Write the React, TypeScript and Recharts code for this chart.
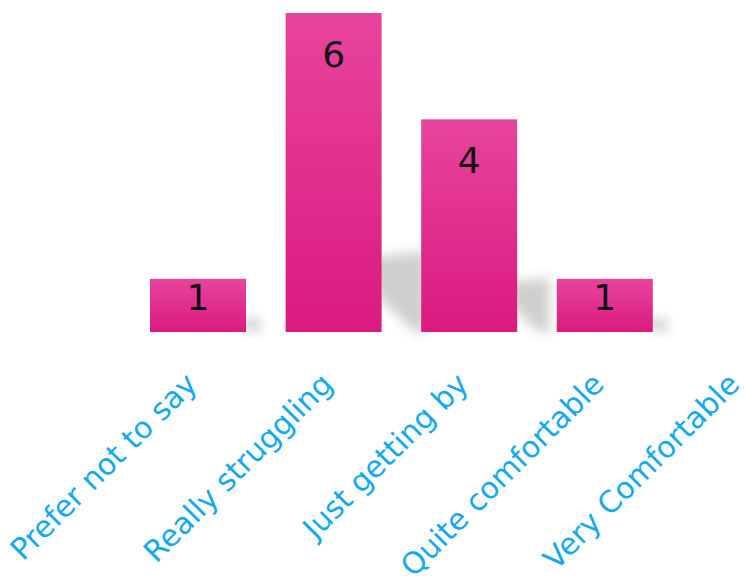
import { BarChart, Bar, XAxis, YAxis, LabelList } from 'recharts';

const categories = [
  'Prefer not to say',
  'Really struggling',
  'Just getting by',
  'Quite comfortable',
  'Very Comfortable',
];
const counts = [1, 6, 4, 1, 0];

const data = categories.map((name, i) => ({ name, count: counts[i] }));

const PINK_TOP = '#e8449c';
const PINK_BOTTOM = '#da1a7f';
const CYAN = '#14a9ef';
const FONT = '"DejaVu Sans", sans-serif';

// bar with a soft grey shadow falling to its right
function ShadowBar(props: any) {
  const { x, y, width, height } = props;
  if (!height || height <= 0) return null;
  const b = y + height;
  const xr = x + width;
  const sh = height * 0.23;
  const pts = [
    [xr - 20, b - sh],
    [xr + 8 + sh * 0.5, b - sh * 1.1],
    [xr + 8 + sh * 0.5, b],
    [xr + sh * 0.45, b],
    [xr - 2, b - sh * 0.45],
  ]
    .map(p => p.join(','))
    .join(' ');
  return (
    <g>
      <polygon points={pts} fill="#000" fillOpacity={0.19} filter="url(#shadowBlur)" />
      <rect x={x} y={y} width={width} height={height} fill="url(#pinkGrad)" />
    </g>
  );
}

function ValueLabel(props: any) {
  const { x, y, width, height, value } = props;
  if (!value) return null;
  const base = y + Math.min(54, height * 0.58);
  return (
    <text
      x={x + width / 2}
      y={base}
      textAnchor="middle"
      fontFamily={FONT}
      fontSize={36}
      fill="#111"
    >
      {value}
    </text>
  );
}

function AngledTick(props: any) {
  const { x, y, payload } = props;
  const tx = x + 1;
  const ty = y + 46;
  return (
    <text
      x={tx}
      y={ty}
      transform={`rotate(-45, ${tx}, ${ty})`}
      textAnchor="end"
      fontFamily={FONT}
      fontSize={30}
      fill={CYAN}
    >
      {payload.value}
    </text>
  );
}

export default function App() {
  return (
    <div
      style={{
        position: 'absolute',
        left: 0,
        top: 0,
        width: 746,
        height: 583,
        overflow: 'hidden',
        background: '#fff',
      }}
    >
      <BarChart
        width={830}
        height={583}
        data={data}
        margin={{ top: 13, right: 22, left: 130, bottom: 0 }}
      >
        <defs>
          <linearGradient id="pinkGrad" x1="0" y1="0" x2="0" y2="1">
            <stop offset="0%" stopColor={PINK_TOP} />
            <stop offset="100%" stopColor={PINK_BOTTOM} />
          </linearGradient>
          <filter id="shadowBlur" x="-50%" y="-50%" width="200%" height="200%">
            <feGaussianBlur stdDeviation="6" />
          </filter>
        </defs>
        <XAxis
          dataKey="name"
          height={251}
          axisLine={false}
          tickLine={false}
          interval={0}
          tick={<AngledTick />}
        />
        <YAxis hide width={0} domain={[0, 6]} />
        <Bar dataKey="count" barSize={96} shape={<ShadowBar />} isAnimationActive={false}>
          <LabelList dataKey="count" content={<ValueLabel />} />
        </Bar>
      </BarChart>
    </div>
  );
}
